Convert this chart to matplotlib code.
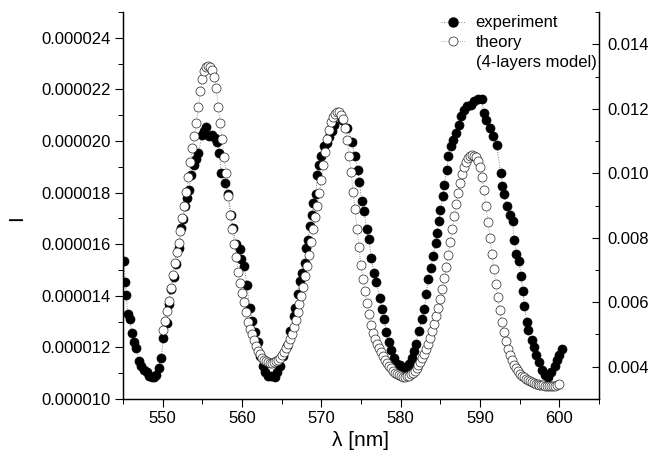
import numpy as np
import matplotlib
matplotlib.use("Agg")
from matplotlib import pyplot as plt
from matplotlib.ticker import MultipleLocator, FormatStrFormatter
from matplotlib.lines import Line2D

plt.rcParams['font.family'] = ['Liberation Sans', 'DejaVu Sans']

# experiment (left axis), intensity in units of 1e-6
exp_wl = [545.1, 545.3, 545.4, 545.6, 545.9, 546.1, 546.4, 546.7, 547.0, 547.3,
          547.6, 548.0, 548.3, 548.6, 548.9, 549.2, 549.5, 549.8, 550.1, 550.5,
          550.8, 551.1, 551.4, 551.7, 552.1, 552.3, 552.6, 552.8, 553.1, 553.3,
          553.6, 553.9, 554.2, 554.5, 555.0, 555.2, 555.5, 555.8, 556.2, 556.6,
          556.9, 557.1, 557.4, 557.8, 558.3, 558.6, 558.9, 559.2, 559.7, 559.9,
          560.3, 560.6, 561.0, 561.3, 561.7, 562.0, 562.3, 562.6, 562.9, 563.3,
          563.7, 564.1, 564.4, 564.8, 565.2, 565.7, 566.1, 566.5, 566.7, 567.1,
          567.3, 567.6, 567.9, 568.1, 568.3, 568.6, 568.8, 569.0, 569.3, 569.5,
          569.7, 570.0, 570.3, 570.7, 571.0, 571.3, 571.6, 572.1, 572.6, 573.3,
          573.9, 574.2, 574.6, 574.8, 575.1, 575.4, 575.7, 576.0, 576.3, 576.6,
          576.9, 577.4, 577.6, 577.9, 578.2, 578.5, 578.8, 579.1, 579.5, 579.9,
          580.2, 580.7, 581.1, 581.4, 581.7, 581.9, 582.3, 582.7, 583.0, 583.2,
          583.5, 583.8, 584.1, 584.4, 584.6, 584.8, 585.0, 585.3, 585.5, 585.8,
          586.0, 586.3, 586.6, 587.0, 587.3, 587.6, 588.0, 588.4, 588.9, 589.3,
          589.8, 590.2, 590.5, 590.8, 591.3, 591.7, 592.1, 592.6, 592.8, 593.0,
          593.4, 593.8, 594.1, 594.3, 594.6, 594.9, 595.2, 595.4, 595.6, 595.9,
          596.1, 596.5, 596.8, 597.1, 597.5, 597.8, 598.2, 598.6, 599.0, 599.4,
          599.7, 600.0, 600.3]
exp_I = [15.35, 14.55, 14.02, 13.30, 13.09, 12.54, 12.19, 11.96, 11.48, 11.29,
         11.13, 11.03, 10.90, 10.84, 10.84, 10.93, 11.22, 11.57, 12.35, 12.96,
         13.67, 14.25, 14.74, 15.22, 15.86, 16.64, 16.96, 17.47, 17.79, 18.12,
         18.70, 19.08, 19.30, 19.54, 20.24, 20.37, 20.56, 20.20, 20.24, 20.12,
         19.98, 19.54, 18.76, 18.38, 17.93, 17.15, 16.64, 15.99, 15.80, 15.41,
         15.15, 14.40, 13.54, 13.03, 12.58, 12.19, 11.67, 11.26, 11.03, 10.90,
         10.88, 10.84, 11.03, 11.29, 11.67, 12.06, 12.64, 13.22, 13.54, 14.06,
         14.57, 14.90, 15.28, 15.86, 16.18, 16.70, 17.15, 17.60, 17.93, 18.70,
         19.08, 19.40, 19.79, 19.92, 20.15, 20.40, 20.63, 21.02, 20.82, 20.50,
         19.95, 19.40, 18.89, 18.40, 17.67, 17.28, 16.57, 16.21, 15.48, 14.90,
         14.55, 13.90, 13.50, 13.10, 12.60, 12.20, 11.90, 11.60, 11.35, 11.30,
         11.22, 11.20, 11.35, 11.60, 11.87, 12.13, 12.64, 13.09, 13.48, 14.06,
         14.64, 15.09, 15.54, 16.06, 16.44, 16.90, 17.34, 17.86, 18.31, 18.89,
         19.40, 19.79, 20.05, 20.31, 20.63, 20.98, 21.21, 21.34, 21.40, 21.55,
         21.62, 21.62, 21.08, 20.82, 20.50, 20.18, 19.86, 18.76, 18.25, 17.93,
         17.47, 17.15, 16.90, 16.18, 15.61, 15.35, 14.77, 14.19, 13.60, 12.99,
         12.67, 12.28, 12.02, 11.70, 11.44, 11.12, 10.93, 10.84, 11.06, 11.28,
         11.51, 11.70, 11.92]

# theory (right axis), 550-600 nm every 0.25 nm, values in units of 1e-3
theory_wl = np.arange(550.0, 600.001, 0.25)
theory_T = [5.15, 5.42, 5.72, 6.05, 6.45, 6.85, 7.22, 7.55,
            7.85, 8.22, 8.60, 9.00, 9.42, 9.88, 10.35, 10.78,
            11.15, 11.55, 12.05, 12.55, 12.92, 13.18, 13.30, 13.33,
            13.30, 13.20, 13.00, 12.65, 12.05, 11.55, 11.05, 10.50,
            10.00, 9.30, 8.72, 8.28, 7.82, 7.40, 6.95, 6.60,
            6.30, 6.00, 5.70, 5.40, 5.18, 5.00, 4.82, 4.65,
            4.50, 4.38, 4.28, 4.21, 4.17, 4.15, 4.13, 4.13,
            4.14, 4.17, 4.22, 4.28, 4.37, 4.46, 4.58, 4.70,
            4.85, 5.03, 5.22, 5.45, 5.70, 5.95, 6.20, 6.48,
            6.80, 7.12, 7.48, 7.88, 8.26, 8.65, 9.00, 9.38,
            9.80, 10.25, 10.65, 11.05, 11.35, 11.58, 11.74, 11.85,
            11.90, 11.90, 11.82, 11.68, 11.40, 11.02, 10.55, 10.05,
            9.42, 8.88, 8.28, 7.70, 7.15, 6.72, 6.35, 5.98,
            5.62, 5.30, 5.05, 4.85, 4.70, 4.58, 4.45, 4.33,
            4.22, 4.12, 4.03, 3.95, 3.88, 3.82, 3.77, 3.73,
            3.70, 3.69, 3.69, 3.70, 3.72, 3.76, 3.81, 3.88,
            3.96, 4.05, 4.15, 4.27, 4.40, 4.55, 4.72, 4.90,
            5.10, 5.32, 5.56, 5.82, 6.10, 6.42, 6.75, 7.10,
            7.48, 7.88, 8.28, 8.68, 9.05, 9.40, 9.70, 9.98,
            10.20, 10.36, 10.47, 10.53, 10.56, 10.55, 10.50, 10.38,
            10.18, 9.88, 9.48, 9.00, 8.50, 8.00, 7.50, 7.02,
            6.58, 6.15, 5.75, 5.40, 5.08, 4.80, 4.56, 4.36,
            4.20, 4.06, 3.95, 3.86, 3.78, 3.72, 3.67, 3.62,
            3.58, 3.55, 3.52, 3.50, 3.48, 3.46, 3.44, 3.43,
            3.42, 3.41, 3.41, 3.40, 3.40, 3.40, 3.41, 3.42,
            3.45]

exp_I = np.array(exp_I) * 1e-6
theory_T = np.array(theory_T) * 1e-3

fig = plt.figure(figsize=(6.51, 4.55), dpi=100)
ax = fig.add_axes([0.1889, 0.1231, 0.7312, 0.8505])
ax2 = ax.twinx()

ax.plot(exp_wl, exp_I, ls=(0, (1, 2)), lw=0.6, color='0.35',
        marker='o', ms=6.5, mfc='k', mec='k', mew=0.5)
ax2.plot(theory_wl, theory_T, ls=(0, (1, 2)), lw=0.5, color='0.4',
         marker='o', ms=6.5, mfc='white', mec='0.15', mew=0.5)

ax.set_xlim(545, 605)
ax.set_ylim(10e-6, 25e-6)
ax2.set_ylim(0.003, 0.015)

ax.xaxis.set_major_locator(MultipleLocator(10))
ax.xaxis.set_minor_locator(MultipleLocator(5))
ax.yaxis.set_major_locator(MultipleLocator(2e-6))
ax.yaxis.set_minor_locator(MultipleLocator(1e-6))
ax.yaxis.set_major_formatter(FormatStrFormatter('%.6f'))
ax2.yaxis.set_major_locator(MultipleLocator(0.002))
ax2.yaxis.set_minor_locator(MultipleLocator(0.001))
ax2.yaxis.set_major_formatter(FormatStrFormatter('%.3f'))

for a in (ax, ax2):
    a.spines['top'].set_visible(False)
    for s in a.spines.values():
        s.set_linewidth(0.9)

ax.tick_params(axis='both', which='major', direction='out', length=6,
               width=0.8, labelsize=12, pad=3)
ax.tick_params(axis='both', which='minor', direction='out', length=3.5, width=0.7)
ax2.tick_params(axis='y', which='major', direction='in', length=5,
                width=0.8, labelsize=12, pad=6)
ax2.tick_params(axis='y', which='minor', direction='in', length=3, width=0.7)

ax.set_xlabel('λ [nm]', fontsize=15, va='center')
ax.xaxis.set_label_coords(0.5, -0.1085)
ax.set_ylabel('I', fontsize=15, va='center', ha='center')
ax.yaxis.set_label_coords(-0.2227, 0.468)

handles = [
    Line2D([0], [0], ls=(0, (1, 2)), lw=0.6, color='0.35', marker='o',
           ms=6.5, mfc='k', mec='k'),
    Line2D([0], [0], ls=(0, (1, 2)), lw=0.5, color='0.4', marker='o',
           ms=6.5, mfc='white', mec='0.15', mew=0.5),
    Line2D([], [], ls='none'),
]
labels = ['experiment', 'theory', '(4-layers model)']
ax2.legend(handles, labels, loc='upper left', bbox_to_anchor=(0.677, 0.966),
           bbox_transform=fig.transFigure, frameon=False, fontsize=12,
           handlelength=1.5, handletextpad=0.6, borderpad=0, borderaxespad=0,
           labelspacing=0.28)

fig.savefig('out.png', dpi=100)
